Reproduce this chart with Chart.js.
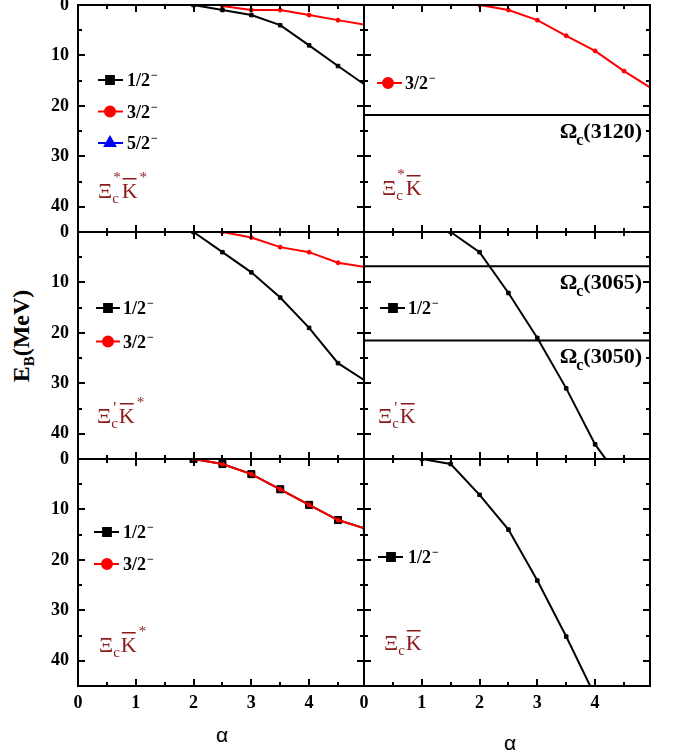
<!DOCTYPE html>
<html>
<head>
<meta charset="utf-8">
<script src="https://cdn.jsdelivr.net/npm/chart.js@4.4.1/dist/chart.umd.min.js"></script>
<style>
  html, body { margin: 0; padding: 0; background: #fff; }
  #page { position: relative; width: 678px; height: 751px; overflow: hidden; background: #fff; }
  #page canvas { position: absolute; left: 0; top: -20px; }
  .alpha { position: absolute; font: 21px "Liberation Sans", sans-serif; transform: translate(-50%, -50%); }
  #ytitle { position: absolute; left: 23px; top: 336px; transform: translate(-50%, -50%) rotate(-90deg);
            font: bold 24px "Liberation Serif", serif; white-space: nowrap; }
  #ytitle sub { font-size: 15px; }
</style>
</head>
<body>
<div id="page">
  <div id="ytitle">E<sub>B</sub>(MeV)</div>
  <div class="alpha" style="left:222px; top:735px;">α</div>
  <div class="alpha" style="left:510px; top:743px;">α</div>
</div>
<script>
// ---------- data ----------
const alpha = [1.0, 1.5, 2.0, 2.5, 3.0, 3.5, 4.0, 4.5, 5.0];
const xTickLabels = [0, 1, 2, 3, 4];
const yTickLabels = [0, 10, 20, 30, 40];

// Xi_c* Kbar*
const xiStarKStar_half = [null, null, 0, 1.0, 2.0, 4.0, 8.0, 12.1, 16.1];
const xiStarKStar_threeHalf = [null, null, null, 0.2, 1.0, 1.0, 2.0, 3.0, 4.0];
const xiStarKStar_fiveHalf = [];
// Xi_c* Kbar
const xiStarK_threeHalf = [null, null, 0, 1.0, 3.0, 6.1, 9.1, 13.1, 16.7];
const xiStarK_thresholds = [21.8];
const xiStarK_thresholdNames = ['3120'];
// Xi_c' Kbar*
const xiPrimeKStar_half = [null, null, 0, 4.0, 8.0, 13.0, 19.0, 26.0, 29.7];
const xiPrimeKStar_threeHalf = [null, null, null, 0, 1.1, 3.0, 4.0, 6.1, 7.0];
// Xi_c' Kbar
const xiPrimeK_half = [null, 0, 4.0, 12.1, 21.0, 31.0, 42.1, 50.0, null];
const xiPrimeK_thresholds = [6.8, 21.5];
const xiPrimeK_thresholdNames = ['3065', '3050'];
// Xi_c Kbar*
const xiKStar_half = [null, null, 0, 1.0, 3.0, 6.0, 9.1, 12.1, 13.9];
const xiKStar_threeHalf = [null, null, 0, 1.0, 3.0, 6.0, 9.1, 12.1, 13.9];
// Xi_c Kbar
const xiK_half = [0, 1.0, 7.1, 14.0, 24.1, 35.2, 47.0, null, null];

// ---------- layout ----------
const OFF = 20;
const colX = [[78, 364], [364, 650]];
const rowY = [[5, 232], [232, 459], [459, 686]];
const X_MAX = 4.95, Y_MAX = 45;
const SERIF = '"Liberation Serif", "Times New Roman", serif';
const NAME_COLOR = '#8b1a1a';

const BLACK = '#000000', RED = '#ff0000', BLUE = '#0000ff';

const panels = [
  { col: 0, row: 0,
    series: [
      { label: '1/2', data: xiStarKStar_half, color: BLACK, style: 'rect', r: 2.5 },
      { label: '3/2', data: xiStarKStar_threeHalf, color: RED, style: 'circle', r: 2 },
      { label: '5/2', data: xiStarKStar_fiveHalf, color: BLUE, style: 'triangle', r: 2 }
    ],
    legend: { x0: 98, x1: 123, xm: 110, xt: 127, y: 80, dy: 31.5 },
    name: { x: 98, y: 198, sup: '*', kStar: true } },
  { col: 1, row: 0,
    series: [
      { label: '3/2', data: xiStarK_threeHalf, color: RED, style: 'circle', r: 2 }
    ],
    thresholds: xiStarK_thresholds, thresholdNames: xiStarK_thresholdNames,
    legend: { x0: 377, x1: 402, xm: 388, xt: 405, y: 83, dy: 31.5 },
    name: { x: 382, y: 195, sup: '*', kStar: false } },
  { col: 0, row: 1,
    series: [
      { label: '1/2', data: xiPrimeKStar_half, color: BLACK, style: 'rect', r: 2.5 },
      { label: '3/2', data: xiPrimeKStar_threeHalf, color: RED, style: 'circle', r: 2 }
    ],
    legend: { x0: 96, x1: 120, xm: 108, xt: 123, y: 308, dy: 33.5 },
    name: { x: 97, y: 423, sup: "'", kStar: true } },
  { col: 1, row: 1,
    series: [
      { label: '1/2', data: xiPrimeK_half, color: BLACK, style: 'rect', r: 2.5 }
    ],
    thresholds: xiPrimeK_thresholds, thresholdNames: xiPrimeK_thresholdNames,
    legend: { x0: 380, x1: 405, xm: 393, xt: 408, y: 308, dy: 31.5 },
    name: { x: 378, y: 423, sup: "'", kStar: false } },
  { col: 0, row: 2,
    series: [
      { label: '1/2', data: xiKStar_half, color: BLACK, style: 'rect', r: 5, order: 1 },
      { label: '3/2', data: xiKStar_threeHalf, color: RED, style: 'circle', r: 2, order: 0 }
    ],
    legend: { x0: 94, x1: 119, xm: 107, xt: 123, y: 532, dy: 32 },
    name: { x: 99, y: 652, sup: null, kStar: true } },
  { col: 1, row: 2,
    series: [
      { label: '1/2', data: xiK_half, color: BLACK, style: 'rect', r: 2.5 }
    ],
    legend: { x0: 378, x1: 403, xm: 391, xt: 408, y: 557, dy: 31.5 },
    name: { x: 384, y: 650, sup: null, kStar: false } }
];

// ---------- drawing helpers ----------
function drawName(ctx, x, y, sup, kStar) {
  ctx.fillStyle = NAME_COLOR;
  ctx.textAlign = 'left';
  ctx.textBaseline = 'alphabetic';
  ctx.font = '22px ' + SERIF;
  ctx.fillText('\u039E', x, y);
  let cx = x + ctx.measureText('\u039E').width;
  ctx.font = '15px ' + SERIF;
  ctx.fillText('c', cx, y + 5);
  let w = ctx.measureText('c').width;
  if (sup) {
    if (sup === "'") {
      ctx.font = '17px ' + SERIF;
      ctx.fillText(sup, cx + 2, y - 10);
    } else {
      ctx.fillText(sup, cx + 1, y - 16);
    }
    w = Math.max(w, ctx.measureText(sup).width + 1);
    ctx.font = '15px ' + SERIF;
  }
  cx += w + 1;
  ctx.font = '22px ' + SERIF;
  ctx.fillText('K', cx, y);
  const kw = ctx.measureText('K').width;
  ctx.fillRect(cx + 1, y - 20, kw - 2, 1.5);
  cx += kw;
  if (kStar) {
    ctx.font = '15px ' + SERIF;
    ctx.fillText('*', cx + 2, y - 16);
  }
}

const decor = {
  id: 'decor',
  afterDatasetsDraw(chart, args, opts) {
    const { ctx, chartArea: a } = chart;
    const xs = chart.scales.x, ys = chart.scales.y;
    ctx.save();
    // inner ticks on all four sides
    ctx.strokeStyle = '#000';
    ctx.lineWidth = 2;
    ctx.beginPath();
    xs.ticks.forEach(t => {
      const px = Math.round(xs.getPixelForValue(t.value));
      const len = Number.isInteger(t.value) ? 7 : 4;
      ctx.moveTo(px, a.top); ctx.lineTo(px, a.top + len);
      ctx.moveTo(px, a.bottom); ctx.lineTo(px, a.bottom - len);
    });
    ys.ticks.forEach(t => {
      const py = Math.round(ys.getPixelForValue(t.value));
      const len = t.value % 10 === 0 ? 7 : 4;
      ctx.moveTo(a.left, py); ctx.lineTo(a.left + len, py);
      ctx.moveTo(a.right, py); ctx.lineTo(a.right - len, py);
    });
    ctx.stroke();
    ctx.strokeRect(a.left, a.top, a.right - a.left, a.bottom - a.top);

    // threshold labels
    const th = opts.thresholds || [];
    th.forEach((v, i) => {
      const txt = '(' + opts.thresholdNames[i] + ')';
      const by = ys.getPixelForValue(v) + 23;
      ctx.fillStyle = '#000';
      ctx.textAlign = 'left';
      ctx.textBaseline = 'alphabetic';
      ctx.font = 'bold 22px ' + SERIF;
      const wO = ctx.measureText('\u03A9').width;
      const wP = ctx.measureText(txt).width;
      ctx.font = 'bold 16px ' + SERIF;
      const wc = ctx.measureText('c').width;
      const x0 = a.right - 8 - (wO + wc - 1 + wP);
      ctx.font = 'bold 22px ' + SERIF;
      ctx.fillText('\u03A9', x0, by);
      ctx.fillText(txt, x0 + wO + wc - 1, by);
      ctx.font = 'bold 16px ' + SERIF;
      ctx.fillText('c', x0 + wO - 1, by + 7);
    });

    // legend
    const lg = opts.legend;
    (opts.items || []).forEach((it, i) => {
      const y = lg.y + OFF + i * lg.dy;
      ctx.strokeStyle = it.color;
      ctx.fillStyle = it.color;
      ctx.lineWidth = 2;
      ctx.beginPath();
      ctx.moveTo(lg.x0, y); ctx.lineTo(lg.x1, y);
      ctx.stroke();
      const rad = it.style === 'rect' ? 5.5 : (it.style === 'triangle' ? 6 : 5);
      Chart.helpers.drawPoint(ctx, { pointStyle: it.style, radius: rad, rotation: 0, borderWidth: 1 }, lg.xm, y);
      ctx.fillStyle = '#000';
      ctx.textAlign = 'left';
      ctx.textBaseline = 'alphabetic';
      ctx.font = 'bold 18px ' + SERIF;
      ctx.fillText(it.label, lg.xt, y + 6);
      const w = ctx.measureText(it.label).width;
      ctx.font = 'bold 12px ' + SERIF;
      ctx.fillText('\u2212', lg.xt + w + 1, y - 1);
    });

    // channel name
    const nm = opts.name;
    drawName(ctx, nm.x, nm.y + OFF, nm.sup, nm.kStar);
    ctx.restore();
  }
};

// ---------- build charts ----------
const page = document.getElementById('page');
panels.forEach(p => {
  const canvas = document.createElement('canvas');
  canvas.width = 678;
  canvas.height = 791;
  page.appendChild(canvas);

  const L = colX[p.col][0], R = colX[p.col][1];
  const T = rowY[p.row][0] + OFF, B = rowY[p.row][1] + OFF;
  const yW = p.col === 0 ? 40 : 0;
  const xH = p.row === 2 ? 40 : 0;

  const datasets = p.series.map((s, i) => ({
    label: s.label,
    data: alpha.map((a, k) => ({ x: a, y: s.data[k] === undefined ? null : s.data[k] })),
    borderColor: s.color,
    backgroundColor: s.color,
    borderWidth: 2,
    pointStyle: s.style,
    pointRadius: s.r,
    pointBorderWidth: 1,
    pointHoverRadius: s.r,
    tension: 0,
    spanGaps: false,
    clip: 1,
    order: s.order !== undefined ? s.order : i
  }));
  (p.thresholds || []).forEach(v => {
    datasets.push({
      label: 'threshold',
      data: [{ x: 0, y: v }, { x: X_MAX, y: v }],
      borderColor: BLACK,
      borderWidth: 2,
      pointRadius: 0,
      clip: 0,
      order: 5
    });
  });

  new Chart(canvas.getContext('2d'), {
    type: 'line',
    data: { datasets },
    options: {
      responsive: false,
      animation: false,
      devicePixelRatio: 1,
      events: [],
      layout: { padding: { left: L - yW, right: 678 - R, top: T, bottom: 791 - B - xH } },
      scales: {
        x: {
          type: 'linear', min: 0, max: X_MAX,
          grid: { display: false, drawTicks: false },
          border: { display: false },
          ticks: {
            display: p.row === 2, stepSize: 0.5, includeBounds: false, padding: 7,
            color: '#000', font: { family: SERIF, size: 18, weight: 'bold' },
            maxRotation: 0, autoSkip: false,
            callback: v => xTickLabels.includes(v) ? String(v) : ''
          },
          afterFit: s => { s.height = xH; }
        },
        y: {
          type: 'linear', min: 0, max: Y_MAX, reverse: true,
          grid: { display: false, drawTicks: false },
          border: { display: false },
          ticks: {
            display: p.col === 0, stepSize: 5, includeBounds: false, padding: 9,
            color: '#000', font: { family: SERIF, size: 18, weight: 'bold' },
            autoSkip: false,
            callback: v => yTickLabels.includes(v) ? String(v) : ''
          },
          afterFit: s => { s.width = yW; }
        }
      },
      plugins: {
        legend: { display: false },
        tooltip: { enabled: false },
        decor: {
          thresholds: p.thresholds || [],
          thresholdNames: p.thresholdNames || [],
          legend: p.legend,
          items: p.series.map(s => ({ label: s.label, color: s.color, style: s.style })),
          name: p.name
        }
      }
    },
    plugins: [decor]
  });
});
</script>
</body>
</html>
